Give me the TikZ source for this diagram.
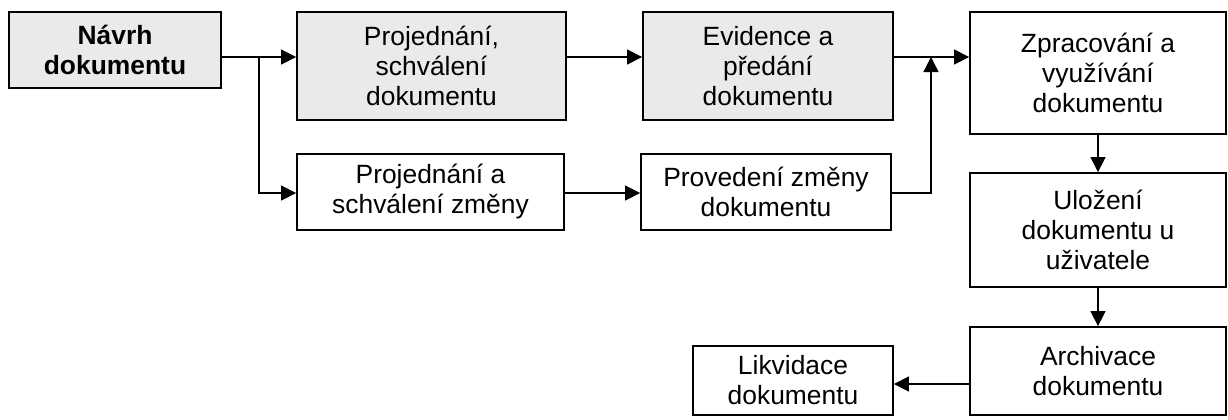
\documentclass[tikz,border=0pt]{standalone}
\usepackage{fontspec}
\setmainfont{Liberation Sans}
\usetikzlibrary{arrows.meta}
\definecolor{sedafill}{HTML}{EAEAEA}
\tikzset{
  krok/.style={draw, line width=0.9pt, inner sep=0pt, align=center,
    font=\fontsize{13.2}{15}\selectfont},
  sedy/.style={krok, fill=sedafill},
  sipka/.style={line width=0.7pt, -{Triangle[length=7.5pt,width=7.5pt]}}
}
\begin{document}
\begin{tikzpicture}[x=0.5pt,y=-0.5pt]
  \useasboundingbox (0,0) rectangle (1228,419);
  \node[sedy, minimum width=106pt, minimum height=38pt, font=\fontsize{13.2}{15}\selectfont\bfseries] (navrh) at (115,50) {Návrh\\dokumentu};
  \node[sedy, minimum width=134.5pt, minimum height=54pt] (projed) at (431.5,66) {Projednání,\\schválení\\dokumentu};
  \node[sedy, minimum width=125pt, minimum height=54pt] (evid) at (768,66) {Evidence a\\předání\\dokumentu};
  \node[krok, minimum width=128pt, minimum height=61pt] (zprac) at (1098,73) {Zpracování a\\využívání\\dokumentu};
  \node[krok, minimum width=133.5pt, minimum height=38pt] (zmena) at (430.5,192) {Projednání a\\schválení změny};
  \node[krok, minimum width=125pt, minimum height=38pt] (proved) at (766,192) {Provedení změny\\dokumentu};
  \node[krok, minimum width=128pt, minimum height=57pt] (ulozeni) at (1098,230) {Uložení\\dokumentu u\\uživatele};
  \node[krok, minimum width=128pt, minimum height=44pt] (archiv) at (1098,371) {Archivace\\dokumentu};
  \node[krok, minimum width=100pt, minimum height=34.5pt] (likvid) at (793,380.5) {Likvidace\\dokumentu};
  \coordinate (horni) at (0,57);
  \coordinate (stredni) at (0,193);
  \coordinate (dolni) at (0,384);
  \coordinate (odbocka) at (259,0);
  \coordinate (spojka) at (931,0);
  \draw[sipka] (navrh.east |- horni) -- (projed.west |- horni);
  \draw[sipka] (odbocka |- horni) -- (odbocka |- stredni) -- (zmena.west |- stredni);
  \draw[sipka] (projed.east |- horni) -- (evid.west |- horni);
  \draw[sipka] (zmena.east |- stredni) -- (proved.west |- stredni);
  \draw[sipka] (evid.east |- horni) -- (zprac.west |- horni);
  \draw[sipka] (proved.east |- stredni) -- (spojka |- stredni) -- (spojka |- horni);
  \draw[sipka] (zprac.south) -- (ulozeni.north);
  \draw[sipka] (ulozeni.south) -- (archiv.north);
  \draw[sipka] (archiv.west |- dolni) -- (likvid.east |- dolni);
\end{tikzpicture}
\end{document}
